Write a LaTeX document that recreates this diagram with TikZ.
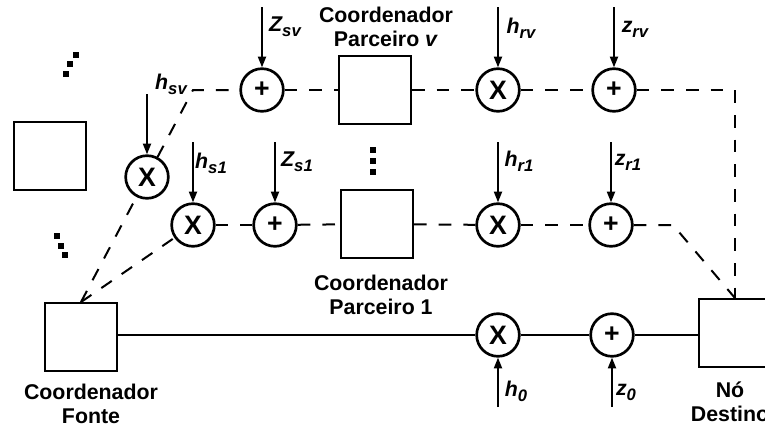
\documentclass[tikz,border=0pt]{standalone}
\usepackage{fontspec}
\setmainfont{Liberation Sans}
\usepackage{tikz}
\usetikzlibrary{arrows.meta}
\newcommand{\sbs}[1]{\raisebox{-0.45ex}{\fontsize{12.5}{12.5}\selectfont #1}}

\begin{document}
\begin{tikzpicture}[x=0.75pt,y=-0.75pt,
 unit/.style={draw=black,line width=1.4pt,minimum width=54pt,minimum height=51pt,inner sep=0pt},
 op/.style={circle,draw=black,line width=2pt,minimum size=32pt,inner sep=0pt,font=\fontsize{20}{20}\selectfont\bfseries},
 link/.style={line width=1.5pt},
 weak/.style={line width=1.5pt,dash pattern=on 9.5pt off 9pt},
 feed/.style={-{Triangle[length=8pt,width=6pt]},line width=1.4pt},
 gain/.style={font=\fontsize{16}{16}\selectfont\bfseries\itshape},
 namelab/.style={font=\fontsize{16}{18}\selectfont\bfseries,align=center}
]
\useasboundingbox (0,0) rectangle (765,432);

\node[unit] (other) at (50,156) {};
\node[unit] (src) at (81,337) {};
\node[unit] (relv) at (375,90) {};
\node[unit] (rel1) at (377,224) {};
\node[unit] (dst) at (735,333) {};

\node[op] (xsv) at (147,177) {X};
\node[op] (psv) at (262,90) {+};
\node[op] (xrv) at (498,90) {X};
\node[op] (prv) at (614,90) {+};
\node[op] (xs1) at (193,225) {X};
\node[op] (ps1) at (275,225) {+};
\node[op] (xr1) at (498,225) {X};
\node[op] (pr1) at (611,225) {+};
\node[op] (x0) at (498,335) {X};
\node[op] (p0) at (612,335) {+};

\coordinate (csv) at (193,90);
\coordinate (crv) at (735,90);
\coordinate (cr1) at (673,225);

\draw[link] (src.east |- x0) -- (x0) -- (p0) -- (dst.west |- p0);
\draw[weak] (src.north) -- (xsv);
\draw[weak] (xsv) -- (csv) -- (psv);
\draw[weak] (src.north) -- (xs1);
\foreach \a/\b in {psv/relv,relv/xrv,xrv/prv,xs1/ps1,ps1/rel1,rel1/xr1,xr1/pr1}
 \draw[weak] (\a)--(\b);
\draw[weak] (prv) -- (crv) -- (dst.north);
\draw[weak] (pr1) -- (cr1) -- (dst.north);

\foreach \n in {xsv,psv,xrv,prv,xs1,ps1,xr1,pr1}
 \coordinate (\n-in) at ([yshift=45pt]\n.north);
\foreach \n in {x0,p0}
 \coordinate (\n-in) at ([yshift=-37pt]\n.south);
\foreach \n in {xsv,psv,xrv,prv,xs1,ps1,xr1,pr1,x0,p0}
 \draw[feed] (\n-in) -- (\n);

\node[gain] (lzsv) at (285,27) {Z\sbs{sv}};
\node[gain] (lhsv) at (171,84) {h\sbs{sv}};
\node[gain] (lhs1) at (211,163) {h\sbs{s1}};
\node[gain] (lzs1) at (297,162) {Z\sbs{s1}};
\node[gain] (lhrv) at (521,28) {h\sbs{rv}};
\node[gain] (lzrv) at (635,29) {z\sbs{rv}};
\node[gain] (lhr1) at (519,161) {h\sbs{r1}};
\node[gain] (lzr1) at (628,162) {z\sbs{r1}};
\node[gain] (lh0) at (516,391) {h\sbs{0}};
\node[gain] (lz0) at (626,392) {z\sbs{0}};

\node[namelab] (trelv) at (386,27) {Coordenador\\Parceiro \textit{v}};
\node[namelab] (trel1) at (381,295) {Coordenador\\Parceiro 1};
\node[namelab] (tsrc) at (91,404) {Coordenador\\Fonte};
\node[namelab] (tdst) at (730,402) {Nó\\Destino};

\foreach \x/\y in {66/74,70/64,76/55,57/236,61/246,65/255,373/150,373/161,373/172}
 \fill (\x-3,\y-3) rectangle (\x+3,\y+3);
\end{tikzpicture}
\end{document}
